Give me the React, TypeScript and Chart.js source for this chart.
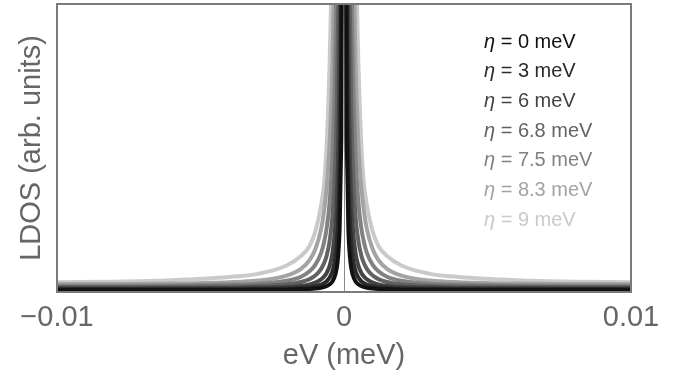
import React, { useEffect, useRef } from 'react';
import { Chart, registerables } from 'chart.js';

Chart.register(...registerables);

// x values (meV) shared by every curve
const xValues = [
  -0.01, -0.008, -0.006, -0.004, -0.003, -0.002, -0.0015, -0.0012, -0.001, -0.0008, -0.0007,
  -0.0006, -0.0005, -0.0004, -0.0003, -0.00025, -0.0002, -0.00015, -0.0001, -0.00005, 0,
  0.00005, 0.0001, 0.00015, 0.0002, 0.00025, 0.0003, 0.0004, 0.0005, 0.0006, 0.0007,
  0.0008, 0.001, 0.0012, 0.0015, 0.002, 0.003, 0.004, 0.006, 0.008, 0.01,
];

const etaLabels = ['0', '3', '6', '6.8', '7.5', '8.3', '9'];
const seriesColors = ['#111111', '#2b2b2b', '#444444', '#636363', '#828282', '#a3a3a3', '#cacaca'];

const ldosEta0 = [
  0.7, 0.7, 0.71, 0.73, 0.75, 0.82, 0.92, 1.04, 1.19, 1.47, 1.7, 2.06, 2.66, 3.76, 6.1, 8.5, 13, 22.5, 49.7, 196, 2000,
  196, 49.7, 22.5, 13, 8.5, 6.1, 3.76, 2.66, 2.06, 1.7, 1.47, 1.19, 1.04, 0.92, 0.82, 0.75, 0.73, 0.71, 0.7, 0.7,
];
const ldosEta3 = [
  1.0, 1.0, 1.03, 1.06, 1.1, 1.25, 1.45, 1.7, 2.0, 2.56, 3.04, 3.8, 5.0, 7.25, 12.1, 17, 26, 45.4, 101, 400, 2000,
  400, 101, 45.4, 26, 17, 12.1, 7.25, 5.0, 3.8, 3.04, 2.56, 2.0, 1.7, 1.45, 1.25, 1.1, 1.06, 1.03, 1.0, 1.0,
];
const ldosEta6 = [
  1.3, 1.33, 1.35, 1.42, 1.52, 1.8, 2.2, 2.66, 3.26, 4.36, 5.3, 6.7, 9.1, 13.6, 23.1, 32.7, 50.3, 88.4, 197, 784, 2000,
  784, 197, 88.4, 50.3, 32.7, 23.1, 13.6, 9.1, 6.7, 5.3, 4.36, 3.26, 2.66, 2.2, 1.8, 1.52, 1.42, 1.35, 1.33, 1.3,
];
const ldosEta68 = [
  1.74, 1.76, 1.81, 1.95, 2.14, 2.7, 3.48, 4.48, 5.7, 7.95, 9.86, 12.8, 17.7, 26.7, 46.1, 65.7, 101.7, 178, 400, 1600, 2000,
  1600, 400, 178, 101.7, 65.7, 46.1, 26.7, 17.7, 12.8, 9.86, 7.95, 5.7, 4.48, 3.48, 2.7, 2.14, 1.95, 1.81, 1.76, 1.74,
];
const ldosEta75 = [
  2.2, 2.2, 2.3, 2.6, 2.9, 3.9, 5.3, 7.2, 9.4, 13.5, 17, 22.4, 31.3, 47.7, 83, 119, 184, 324, 729, 2000, 2000,
  2000, 729, 324, 184, 119, 83, 47.7, 31.3, 22.4, 17, 13.5, 9.4, 7.2, 5.3, 3.9, 2.9, 2.6, 2.3, 2.2, 2.2,
];
const ldosEta83 = [
  2.72, 2.79, 2.94, 3.37, 3.96, 5.66, 8.04, 11.1, 14.85, 21.7, 27.6, 36.6, 51.6, 79.2, 139, 196, 306, 544, 1225, 2000, 2000,
  2000, 1225, 544, 306, 196, 139, 79.2, 51.6, 36.6, 27.6, 21.7, 14.85, 11.1, 8.04, 5.66, 3.96, 3.37, 2.94, 2.79, 2.72,
];
const ldosEta9 = [
  3.4, 3.6, 4.1, 5.2, 6.3, 9.2, 12.5, 16, 21, 30, 37, 52, 80, 130, 230, 330, 510, 900, 2000, 2000, 2000,
  2000, 2000, 900, 510, 330, 230, 130, 80, 52, 37, 30, 21, 16, 12.5, 9.2, 6.3, 5.2, 4.1, 3.6, 3.4,
];

const tickValues = [-0.01, 0, 0.01];
const tickLabels = ['\u22120.01', '0', '0.01'];

const FONT = '"Liberation Sans", Arial, Helvetica, sans-serif';

const framePlugin = {
  id: 'frame',
  afterDatasetsDraw(chart: any) {
    const { ctx, chartArea } = chart;
    ctx.save();
    ctx.strokeStyle = '#7a7a7a';
    ctx.lineWidth = 2;
    ctx.strokeRect(chartArea.left, chartArea.top, chartArea.right - chartArea.left, chartArea.bottom - chartArea.top);
    ctx.restore();
  },
};

const etaLegendPlugin = {
  id: 'etaLegend',
  afterDraw(chart: any) {
    const { ctx } = chart;
    ctx.save();
    ctx.textBaseline = 'middle';
    ctx.textAlign = 'left';
    chart.data.datasets.forEach((ds: any, i: number) => {
      const x = 484;
      const y = 42 + i * 29.7;
      ctx.fillStyle = ds.borderColor;
      ctx.font = `italic 20px ${FONT}`;
      ctx.fillText('\u03B7', x, y);
      const w = ctx.measureText('\u03B7').width;
      ctx.font = `20px ${FONT}`;
      ctx.fillText(` = ${etaLabels[i]} meV`, x + w, y);
    });
    ctx.restore();
  },
};

export default function App() {
  const ref = useRef<HTMLCanvasElement>(null);
  useEffect(() => {
    document.body.style.margin = '0';
    const series = [ldosEta0, ldosEta3, ldosEta6, ldosEta68, ldosEta75, ldosEta83, ldosEta9];
    const chart = new Chart(ref.current as HTMLCanvasElement, {
      type: 'line',
      data: {
        datasets: series.map((s, i) => ({
          label: `\u03B7 = ${etaLabels[i]} meV`,
          data: xValues.map((x, j) => ({ x, y: s[j] })),
          borderColor: seriesColors[i],
          backgroundColor: seriesColors[i],
          borderWidth: 4,
          pointRadius: 0,
          cubicInterpolationMode: 'monotone',
          clip: 0,
          fill: false,
        })),
      },
      options: {
        responsive: false,
        animation: false,
        layout: { padding: { left: 0, right: 51, top: 4, bottom: 0 } },
        plugins: { legend: { display: false }, tooltip: { enabled: false } },
        scales: {
          x: {
            type: 'linear',
            min: -0.01,
            max: 0.01,
            afterBuildTicks: (s: any) => {
              s.ticks = tickValues.map((v) => ({ value: v }));
            },
            ticks: {
              callback: (v: any) => tickLabels[tickValues.indexOf(Number(v))],
              color: '#666666',
              font: { family: FONT, size: 29 },
              padding: 9,
              maxRotation: 0,
              autoSkip: false,
            },
            grid: {
              drawTicks: false,
              color: (c: any) => (c.tick && c.tick.value === 0 ? '#8a8a8a' : 'rgba(0,0,0,0)'),
              lineWidth: 1,
            },
            border: { display: false },
            title: {
              display: true,
              text: 'eV (meV)',
              color: '#666666',
              font: { family: FONT, size: 29 },
              padding: { top: 0, bottom: 8 },
            },
            afterFit: (s: any) => {
              s.height = 89;
            },
          },
          y: {
            min: 0,
            max: 100,
            ticks: { display: false },
            grid: { display: false, drawTicks: false },
            border: { display: false },
            title: {
              display: true,
              text: 'LDOS (arb. units)',
              color: '#666666',
              font: { family: FONT, size: 29 },
              padding: { top: 15, bottom: 0 },
            },
            afterFit: (s: any) => {
              s.width = 57;
            },
          },
        },
      } as any,
      plugins: [framePlugin, etaLegendPlugin],
    });
    return () => chart.destroy();
  }, []);
  return (
    <div style={{ width: 682, height: 381 }}>
      <canvas ref={ref} width={682} height={381} />
    </div>
  );
}
